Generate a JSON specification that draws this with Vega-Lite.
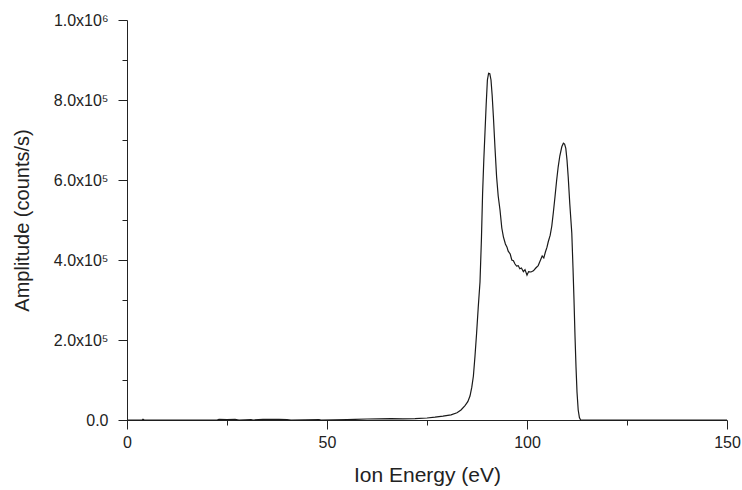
{
  "$schema": "https://vega.github.io/schema/vega-lite/v6.json",
  "width": 600,
  "height": 400,
  "autosize": {"type": "none"},
  "padding": {"left": 127, "top": 20, "right": 15, "bottom": 70},
  "background": "white",
  "config": {
    "view": {"stroke": null},
    "font": "Liberation Sans",
    "axis": {
      "grid": false,
      "domainColor": "#222222",
      "domainWidth": 1,
      "tickColor": "#222222",
      "tickWidth": 1,
      "labelColor": "#222222",
      "titleColor": "#222222",
      "labelFont": "Liberation Sans",
      "titleFont": "Liberation Sans",
      "titleFontWeight": "normal",
      "labelFontSize": 16
    }
  },
  "data": {
    "values": [
      {"energy": 0, "amp": 0}, {"energy": 3.8, "amp": 0}, {"energy": 4.0, "amp": 2000}, {"energy": 4.3, "amp": 0},
      {"energy": 22.5, "amp": 0}, {"energy": 23, "amp": 1500}, {"energy": 25, "amp": 1200}, {"energy": 27, "amp": 1500},
      {"energy": 28, "amp": 0}, {"energy": 31, "amp": 1200}, {"energy": 31.5, "amp": 0}, {"energy": 34, "amp": 1500},
      {"energy": 38, "amp": 1500}, {"energy": 40, "amp": 1200}, {"energy": 41, "amp": 0}, {"energy": 48, "amp": 1000},
      {"energy": 48.5, "amp": 0}, {"energy": 55, "amp": 1200}, {"energy": 57, "amp": 1500}, {"energy": 60, "amp": 2500},
      {"energy": 63, "amp": 3000}, {"energy": 66, "amp": 3500}, {"energy": 69, "amp": 3000}, {"energy": 72, "amp": 3500},
      {"energy": 75, "amp": 5000}, {"energy": 77, "amp": 7000}, {"energy": 79, "amp": 9500}, {"energy": 81, "amp": 13000},
      {"energy": 82.5, "amp": 18000}, {"energy": 83.5, "amp": 25000}, {"energy": 84.5, "amp": 36000}, {"energy": 85.2, "amp": 46000},
      {"energy": 85.75, "amp": 60000}, {"energy": 86.2, "amp": 82000}, {"energy": 86.6, "amp": 110000}, {"energy": 87.0, "amp": 160000},
      {"energy": 87.4, "amp": 217000}, {"energy": 87.8, "amp": 280000}, {"energy": 88.25, "amp": 345000}, {"energy": 88.6, "amp": 450000},
      {"energy": 88.9, "amp": 567000}, {"energy": 89.2, "amp": 650000}, {"energy": 89.5, "amp": 720000}, {"energy": 89.8, "amp": 790000},
      {"energy": 90.1, "amp": 850000}, {"energy": 90.4, "amp": 867000}, {"energy": 90.7, "amp": 866000}, {"energy": 91.0, "amp": 850000},
      {"energy": 91.3, "amp": 810000}, {"energy": 91.6, "amp": 758000}, {"energy": 92.0, "amp": 680000}, {"energy": 92.4, "amp": 608000},
      {"energy": 92.8, "amp": 560000}, {"energy": 93.25, "amp": 525000}, {"energy": 93.7, "amp": 480000}, {"energy": 94.1, "amp": 458000},
      {"energy": 94.6, "amp": 440000}, {"energy": 95.0, "amp": 432000}, {"energy": 95.3, "amp": 422000}, {"energy": 95.8, "amp": 415000},
      {"energy": 96.2, "amp": 400000}, {"energy": 96.6, "amp": 398000}, {"energy": 97.0, "amp": 390000}, {"energy": 97.4, "amp": 385000},
      {"energy": 97.8, "amp": 386000}, {"energy": 98.2, "amp": 378000}, {"energy": 98.6, "amp": 380000}, {"energy": 99.1, "amp": 371000},
      {"energy": 99.5, "amp": 376000}, {"energy": 100.0, "amp": 362000}, {"energy": 100.4, "amp": 371000}, {"energy": 101.0, "amp": 370000},
      {"energy": 101.6, "amp": 373000}, {"energy": 102.2, "amp": 380000}, {"energy": 102.8, "amp": 386000}, {"energy": 103.3, "amp": 398000},
      {"energy": 103.8, "amp": 410000}, {"energy": 104.2, "amp": 405000}, {"energy": 104.6, "amp": 420000}, {"energy": 105.0, "amp": 432000},
      {"energy": 105.3, "amp": 445000}, {"energy": 105.8, "amp": 462000}, {"energy": 106.2, "amp": 485000}, {"energy": 106.6, "amp": 520000},
      {"energy": 107.0, "amp": 558000}, {"energy": 107.4, "amp": 598000}, {"energy": 107.8, "amp": 633000}, {"energy": 108.2, "amp": 660000},
      {"energy": 108.7, "amp": 683000}, {"energy": 109.1, "amp": 692000}, {"energy": 109.4, "amp": 690000}, {"energy": 109.7, "amp": 679000},
      {"energy": 110.0, "amp": 650000}, {"energy": 110.3, "amp": 608000}, {"energy": 110.7, "amp": 540000}, {"energy": 111.2, "amp": 467000},
      {"energy": 111.5, "amp": 380000}, {"energy": 111.75, "amp": 300000}, {"energy": 112.0, "amp": 210000}, {"energy": 112.25, "amp": 133000},
      {"energy": 112.5, "amp": 70000}, {"energy": 112.8, "amp": 25000}, {"energy": 113.1, "amp": 6000}, {"energy": 113.4, "amp": 0},
      {"energy": 130, "amp": 0}, {"energy": 150, "amp": 0}
    ]
  },
  "layer": [
    {
      "mark": {"type": "line", "color": "#1a1a1a", "strokeWidth": 1.2, "interpolate": "linear"},
      "encoding": {
        "x": {
          "field": "energy", "type": "quantitative",
          "scale": {"domain": [0, 150], "nice": false, "zero": false},
          "axis": {
            "orient": "bottom",
            "values": [0, 50, 100, 150],
            "tickSize": 9,
            "labelPadding": 5,
            "labelFlush": false,
            "title": "Ion Energy (eV)",
            "titleFontSize": 21,
            "titlePadding": 14
          }
        },
        "y": {
          "field": "amp", "type": "quantitative",
          "scale": {"domain": [0, 1000000], "nice": false},
          "axis": {
            "orient": "left",
            "values": [0, 200000, 400000, 600000, 800000, 1000000],
            "tickSize": 9,
            "labelPadding": 10,
            "labelFlush": false,
            "labelExpr": "datum.value == 0 ? '0.0' : (datum.value == 1000000 ? '1.0x10⁶' : format(datum.value / 100000, '.1f') + 'x10⁵')",
            "title": "Amplitude (counts/s)",
            "titleFontSize": 20,
            "titlePadding": 21
          }
        }
      }
    },
    {
      "mark": {"type": "line", "opacity": 0},
      "encoding": {
        "x": {
          "field": "energy", "type": "quantitative",
          "axis": {
            "orient": "bottom",
            "values": [25, 75, 125],
            "tickSize": 5,
            "labels": false,
            "domain": false,
            "title": null
          }
        },
        "y": {
          "field": "amp", "type": "quantitative",
          "axis": {
            "orient": "left",
            "values": [100000, 300000, 500000, 700000, 900000],
            "tickSize": 5,
            "labels": false,
            "domain": false,
            "title": null
          }
        }
      }
    }
  ],
  "resolve": {"axis": {"x": "independent", "y": "independent"}}
}
